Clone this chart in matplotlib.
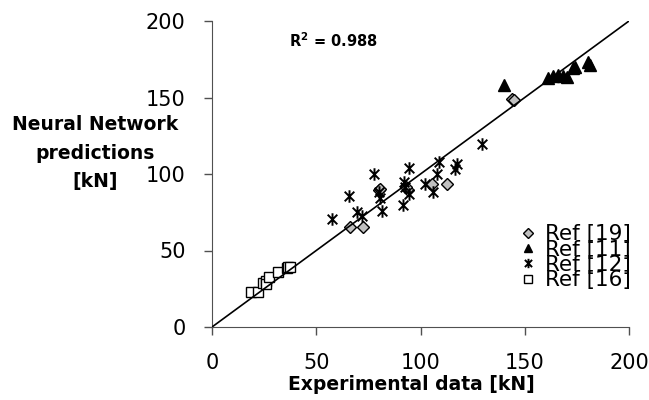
import matplotlib.pyplot as plt
from matplotlib.path import Path

# data
ref19_x = [66.2, 72.6, 80.2, 80.8, 94.1, 93.0, 105.4, 112.6, 144.0, 145.0]
ref19_y = [65.6, 65.6, 89.5, 90.5, 89.5, 91.5, 93.3, 93.3, 149.0, 148.5]

ref11_x = [140.2, 161.3, 163.7, 166.1, 168.5, 170.1, 173.3, 174.1, 180.5, 181.3]
ref11_y = [158.2, 162.5, 164.0, 164.7, 164.0, 163.6, 169.1, 170.2, 173.4, 171.2]

ref12_x = [57.6, 65.5, 69.5, 72.1, 77.6, 80.2, 80.6, 81.7, 91.5, 92.1,
           92.6, 94.6, 94.6, 102.2, 106.1, 107.8, 109.0, 116.5, 117.4, 129.6]
ref12_y = [70.8, 85.8, 75.4, 72.6, 100.0, 88.4, 84.1, 75.8, 79.7, 95.0,
           91.7, 104.1, 86.7, 93.3, 88.4, 99.8, 108.0, 103.3, 106.5, 119.6]

ref16_x = [18.7, 22.2, 24.3, 25.9, 25.9, 27.5, 31.8, 35.8, 36.6, 37.4]
ref16_y = [23.0, 23.0, 28.6, 30.3, 28.1, 32.9, 36.1, 38.4, 39.0, 39.4]

fit_x = [0, 200]
fit_y = [0, 200]
ticks = [0, 50, 100, 150, 200]
ylabel_lines = ['Neural Network', 'predictions', '[kN]']

# excel style asterisk: X with a vertical bar
star = Path([(-1, -1), (1, 1), (-1, 1), (1, -1), (0, -1.3), (0, 1.3)],
            [Path.MOVETO, Path.LINETO, Path.MOVETO, Path.LINETO, Path.MOVETO, Path.LINETO])

fig = plt.figure(figsize=(6.49, 4.0), dpi=100)
ax = fig.add_axes([212/649, 1-327/400, 417/649, 306/400])

ax.plot(ref19_x, ref19_y, 'D', ms=6.5, mfc='#c0c0c0', mec='black', mew=1, label='Ref [19]', clip_on=False)
ax.plot(ref11_x, ref11_y, '^', ms=8, mfc='black', mec='black', label='Ref [11]', clip_on=False)
ax.plot(ref12_x, ref12_y, ls='none', marker=star, ms=9, mfc='none', mec='black', mew=1.4, label='Ref [12]')
ax.plot(ref16_x, ref16_y, 's', ms=7.5, mfc='white', mec='black', mew=1, label='Ref [16]')
ax.plot(fit_x, fit_y, color='black', lw=1.2, zorder=5)

ax.set_xlim(0, 200)
ax.set_ylim(0, 200)
ax.set_xticks(ticks)
ax.set_yticks(ticks)
ax.spines['top'].set_visible(False)
ax.spines['right'].set_visible(False)
for s in ['left', 'bottom']:
    ax.spines[s].set_color('#505050')
ax.tick_params(direction='out', length=6, width=1, color='#505050', labelsize=15, pad=13)

ax.text(37, 187, r'R$^\mathbf{2}$ = 0.988', fontsize=10.5, fontweight='bold', va='center')

fig.text(411/649, 1-385/400, 'Experimental data [kN]', fontsize=13.5, fontweight='bold', ha='center', va='center')
for i, line in enumerate(ylabel_lines):
    fig.text(95/649, 1-(125 + 28*i)/400, line, fontsize=13.5, fontweight='bold', ha='center', va='center')

leg = ax.legend(loc='lower right', bbox_to_anchor=(642/649, 1-301/400), bbox_transform=fig.transFigure,
                frameon=False, fontsize=15.5, labelspacing=-0.22, handlelength=0.8, handletextpad=0.4,
                markerscale=0.75, borderpad=0)

fig.savefig('out.png', dpi=100)
